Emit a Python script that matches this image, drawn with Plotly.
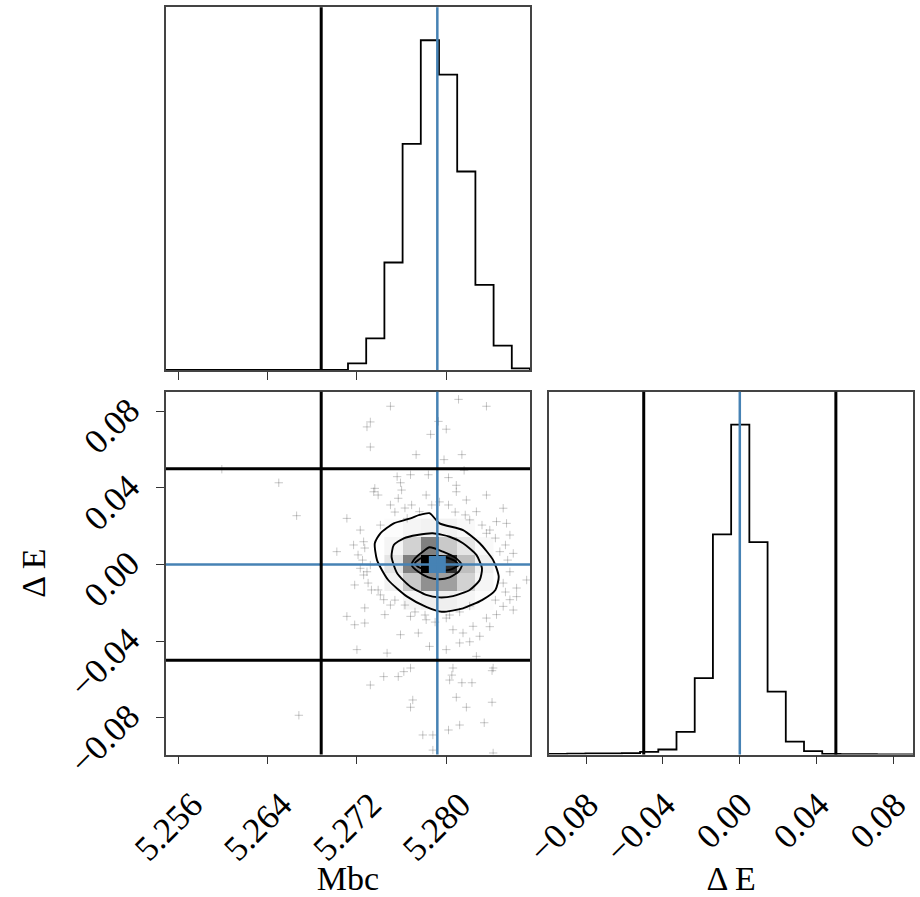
import numpy as np
import plotly.graph_objects as go

# ---------------- data ----------------
N_BINS = 20
MBC_RANGE = [5.2549, 5.2875]
DE_RANGE = [-0.0993, 0.0903]

MBC_TICKS = [5.256, 5.264, 5.272, 5.280]
DE_TICKS = [-0.08, -0.04, 0.00, 0.04, 0.08]

MBC_TRUTH = 5.2792
DE_TRUTH = 0.0
MBC_CUT = 5.2688
DE_CUTS = [-0.05, 0.05]

# 1D histogram counts (20 bins across the axis range)
mbc_counts = [0, 0, 0, 0, 0, 0, 0, 0, 0, 0, 20, 96, 326, 686, 1000, 896, 602, 258, 74, 5]
de_counts = [3, 4, 5, 5, 6, 11, 21, 95, 319, 920, 1379, 888, 263, 54, 14, 2, 1, 1, 0, 0]

# 2D density (relative to peak) for the central block of bins
DENS_I0 = 12   # first Mbc bin of the block
DENS_J0 = 8    # first Delta E bin of the block
density = [
    [0.00, 0.15, 0.25, 0.25, 0.15, 0.05],
    [0.20, 0.45, 0.65, 0.60, 0.40, 0.15],
    [0.30, 0.70, 1.00, 0.90, 0.50, 0.25],
    [0.15, 0.40, 0.70, 0.45, 0.30, 0.10],
    [0.05, 0.15, 0.20, 0.20, 0.10, 0.00],
]

# contour levels (Mbc, Delta E)
c1_mbc = [5.2785, 5.2794, 5.2815, 5.2830, 5.2842, 5.2847, 5.2844, 5.2832, 5.2815, 5.2796,
          5.2782, 5.2765, 5.2748, 5.2738, 5.2736, 5.2741, 5.2753, 5.2768, 5.2776]
c1_de = [0.0268, 0.0215, 0.0180, 0.0111, 0.0023, -0.0064, -0.0133, -0.0186, -0.0229, -0.0247,
         -0.0221, -0.0168, -0.0081, 0.0023, 0.0111, 0.0163, 0.0215, 0.0241, 0.0259]
c2_mbc = [5.2788, 5.2803, 5.2815, 5.2827, 5.2832, 5.2830, 5.2821, 5.2806, 5.2794, 5.2782,
          5.2768, 5.2756, 5.2751, 5.2753, 5.2762, 5.2774]
c2_de = [0.0163, 0.0145, 0.0111, 0.0050, -0.0020, -0.0081, -0.0133, -0.0165, -0.0172, -0.0159,
         -0.0116, -0.0046, 0.0041, 0.0102, 0.0137, 0.0154]
c3_mbc = [5.2785, 5.2797, 5.2809, 5.2814, 5.2811, 5.2803, 5.2794, 5.2784, 5.2775, 5.2769,
          5.2772, 5.2779]
c3_de = [0.0090, 0.0067, 0.0032, -0.0003, -0.0038, -0.0067, -0.0077, -0.0067, -0.0038, -0.0003,
         0.0032, 0.0067]
c4_mbc = [5.2772, 5.2778, 5.2787, 5.2799, 5.2808, 5.2811, 5.2805, 5.2794, 5.2784, 5.2775]
c4_de = [0.0008, 0.0034, 0.0044, 0.0039, 0.0018, -0.0003, -0.0024, -0.0034, -0.0029, -0.0013]

# individual samples outside the contours
sample_mbc = [
    5.2750, 5.2732, 5.2729, 5.2836, 5.2811, 5.2800, 5.2786, 5.2732, 5.2773, 5.2814,
    5.2798, 5.2793, 5.2768, 5.2784, 5.2759, 5.2802, 5.2816, 5.2809, 5.2756, 5.2736,
    5.2739, 5.2711, 5.2735, 5.2757, 5.2760, 5.2769, 5.2776, 5.2802, 5.2818, 5.2827,
    5.2851, 5.2845, 5.2857, 5.2836, 5.2726, 5.2717, 5.2732, 5.2726, 5.2848, 5.2857,
    5.2741, 5.2750, 5.2765, 5.2809, 5.2782, 5.2836, 5.2854, 5.2702, 5.2860, 5.2872,
    5.2723, 5.2729, 5.2863, 5.2860, 5.2650, 5.2666, 5.2668, 5.2599, 5.2711, 5.2718,
    5.2727, 5.2727, 5.2744, 5.2745, 5.2759, 5.2768, 5.2775, 5.2782, 5.2800, 5.2806,
    5.2815, 5.2824, 5.2830, 5.2836, 5.2845, 5.2851, 5.2857, 5.2863, 5.2785, 5.2800,
    5.2812, 5.2747, 5.2827, 5.2720, 5.2821, 5.2839, 5.2768, 5.2806, 5.2842, 5.2732,
    5.2744, 5.2757, 5.2762, 5.2803, 5.2805, 5.2814, 5.2823, 5.2841, 5.2770, 5.2768,
    5.2809, 5.2818, 5.2841, 5.2802, 5.2812, 5.2834, 5.2779, 5.2788, 5.2788, 5.2842,
    5.2723, 5.2727, 5.2721, 5.2730, 5.2733, 5.2725, 5.2718, 5.2754, 5.2763, 5.2787,
    5.2794, 5.2808, 5.2817, 5.2821, 5.2853, 5.2851, 5.2853, 5.2855, 5.2844, 5.2763,
    5.2772, 5.2790, 5.2803, 5.2812, 5.2821, 5.2754, 5.2781, 5.2839, 5.2844, 5.2832,
    5.2741, 5.2750, 5.2739,
]
sample_de = [
    0.0827, 0.0745, 0.0719, 0.0827, 0.0863, 0.0707, 0.0680, 0.0614, 0.0574, 0.0574,
    0.0548, 0.0748, 0.0469, 0.0469, 0.0427, 0.0454, 0.0492, 0.0414, 0.0459, 0.0398,
    0.0363, 0.0241, 0.0380, 0.0346, 0.0389, 0.0311, 0.0276, 0.0311, 0.0337, 0.0276,
    0.0294, 0.0224, 0.0154, 0.0163, 0.0119, 0.0102, -0.0003, -0.0055, 0.0067, -0.0038,
    0.0206, 0.0311, 0.0241, 0.0380, 0.0363, 0.0363, 0.0215, 0.0067, 0.0058, -0.0081,
    -0.0020, -0.0038, -0.0168, -0.0238, 0.0427, 0.0255, -0.0788, 0.0498, -0.0271, -0.0315,
    -0.0227, -0.0306, -0.0184, -0.0262, -0.0367, -0.0271, -0.0358, -0.0289, -0.0280, -0.0341,
    -0.0358, -0.0323, -0.0375, -0.0280, -0.0262, -0.0219, -0.0184, -0.0123, -0.0428, -0.0445,
    -0.0410, -0.0463, -0.0480, -0.0445, -0.0404, -0.0325, -0.0541, -0.0541, -0.0541, -0.0630,
    -0.0586, -0.0586, -0.0560, -0.0604, -0.0578, -0.0618, -0.0618, -0.0555, -0.0708, -0.0746,
    -0.0694, -0.0746, -0.0720, -0.0865, -0.0839, -0.0827, -0.0891, -0.0891, -0.0970, -0.0985,
    0.0180, 0.0086, 0.0050, -0.0097, -0.0133, 0.0023, -0.0107, 0.0274, 0.0295, 0.0311,
    0.0327, 0.0274, 0.0259, 0.0233, 0.0102, -0.0097, -0.0144, 0.0023, -0.0186, -0.0212,
    -0.0248, -0.0301, -0.0264, -0.0248, -0.0217, -0.0186, -0.0264, 0.0180, 0.0138, 0.0206,
    -0.0159, -0.0212, -0.0133,
]

# ---------------- styling ----------------
FONT = "Liberation Serif"
FS_TICK = 35
FS_TITLE = 34
TRUTH_COLOR = "#4682b4"
SPINE = dict(showline=True, mirror=True, linecolor="#444", linewidth=1.5)

mbc_edges = np.linspace(MBC_RANGE[0], MBC_RANGE[1], N_BINS + 1)
de_edges = np.linspace(DE_RANGE[0], DE_RANGE[1], N_BINS + 1)


def step_xy(edges, counts):
    xs = [edges[0]] + list(edges) + [edges[-1]]
    ys = [0] + list(counts) + [counts[-1], 0]
    return xs, ys


fig = go.Figure()

# top-left: Mbc histogram
sx, sy = step_xy(mbc_edges, mbc_counts)
fig.add_trace(go.Scatter(x=sx, y=sy, mode="lines", line=dict(shape="hv", color="black", width=1.8),
                         xaxis="x", yaxis="y", hoverinfo="skip"))

# bottom-left: 2D density
nr, nc = len(density), len(density[0])
fig.add_trace(go.Heatmap(
    x=mbc_edges[DENS_I0:DENS_I0 + nc + 1], y=de_edges[DENS_J0:DENS_J0 + nr + 1], z=density,
    zmin=0, zmax=1, showscale=False, xaxis="x2", yaxis="y2", hoverinfo="skip",
    colorscale=[[0, "rgb(255,255,255)"], [0.25, "rgb(239,239,239)"], [0.5, "rgb(191,191,191)"],
                [0.75, "rgb(112,112,112)"], [1, "rgb(0,0,0)"]]))

fig.add_trace(go.Scatter(x=sample_mbc, y=sample_de, mode="markers",
                         marker=dict(symbol="cross-thin", size=6,
                                     line=dict(width=1, color="rgba(0,0,0,0.22)")),
                         xaxis="x2", yaxis="y2", hoverinfo="skip"))

for cx, cy in [(c1_mbc, c1_de), (c2_mbc, c2_de), (c3_mbc, c3_de), (c4_mbc, c4_de)]:
    fig.add_trace(go.Scatter(x=cx + cx[:1], y=cy + cy[:1], mode="lines",
                             line=dict(color="black", width=1.9, shape="spline", smoothing=0.6),
                             xaxis="x2", yaxis="y2", hoverinfo="skip"))

fig.add_trace(go.Scatter(x=[MBC_TRUTH], y=[DE_TRUTH], mode="markers",
                         marker=dict(symbol="square", size=17, color=TRUTH_COLOR),
                         xaxis="x2", yaxis="y2", hoverinfo="skip"))

# bottom-right: Delta E histogram
sx, sy = step_xy(de_edges, de_counts)
fig.add_trace(go.Scatter(x=sx, y=sy, mode="lines", line=dict(shape="hv", color="black", width=1.8),
                         xaxis="x3", yaxis="y3", hoverinfo="skip"))

# ---------------- reference lines ----------------
shapes = []


def vline(xref, yref, x, color, width):
    shapes.append(dict(type="line", xref=xref, yref=yref + " domain", x0=x, x1=x, y0=0, y1=1,
                       line=dict(color=color, width=width), layer="above"))


def hline(xref, yref, y, color, width):
    shapes.append(dict(type="line", xref=xref + " domain", yref=yref, x0=0, x1=1, y0=y, y1=y,
                       line=dict(color=color, width=width), layer="above"))


vline("x", "y", MBC_TRUTH, TRUTH_COLOR, 2.5)
vline("x2", "y2", MBC_TRUTH, TRUTH_COLOR, 2.5)
hline("x2", "y2", DE_TRUTH, TRUTH_COLOR, 2.5)
vline("x3", "y3", DE_TRUTH, TRUTH_COLOR, 2.5)
vline("x", "y", MBC_CUT, "black", 3)
vline("x2", "y2", MBC_CUT, "black", 3)
for c in DE_CUTS:
    hline("x2", "y2", c, "black", 3)
    vline("x3", "y3", c, "black", 3)

tickfont = dict(family=FONT, size=FS_TICK, color="black")
titlefont = dict(family=FONT, size=FS_TITLE, color="black")
tick_common = dict(ticks="outside", ticklen=8, tickwidth=1.3, tickcolor="#333", showgrid=False,
                   zeroline=False, tickfont=tickfont, ticklabeloverflow="allow", **SPINE)

LEFT = [166 / 920, 530 / 920]
RIGHT = [549 / 920, 913.3 / 920]
TOP = [1 - 370 / 897, 1 - 7.3 / 897]
BOTTOM = [1 - 754.5 / 897, 1 - 391.7 / 897]

fig.update_layout(
    width=920, height=897, margin=dict(l=0, r=0, t=0, b=0),
    paper_bgcolor="white", plot_bgcolor="white", showlegend=False, template="none",
    font=dict(family=FONT, size=FS_TITLE, color="black"),
    shapes=shapes,
    xaxis=dict(domain=LEFT, anchor="y", range=MBC_RANGE, tickvals=MBC_TICKS, showticklabels=False,
               **tick_common),
    yaxis=dict(domain=TOP, anchor="x", range=[0, 1.1 * max(mbc_counts)], showticklabels=False,
               showgrid=False, zeroline=False, ticks="", **SPINE),
    xaxis2=dict(domain=LEFT, anchor="y2", range=MBC_RANGE, tickvals=MBC_TICKS, tickformat=".3f",
                tickangle=-45, ticklabelshift=14, ticklabelstandoff=6,
                title=dict(text="Mbc", font=titlefont, standoff=7), **tick_common),
    yaxis2=dict(domain=BOTTOM, anchor="x2", range=DE_RANGE, tickvals=DE_TICKS, tickformat=".2f",
                tickangle=-45, ticklabelstandoff=20, ticklabelshift=-6,
                title=dict(text="Δ E", font=titlefont, standoff=7), **tick_common),
    xaxis3=dict(domain=RIGHT, anchor="y3", range=DE_RANGE, tickvals=DE_TICKS, tickformat=".2f",
                tickangle=-45, ticklabelshift=2, ticklabelstandoff=6,
                title=dict(text="Δ E", font=titlefont, standoff=7), **tick_common),
    yaxis3=dict(domain=BOTTOM, anchor="x3", range=[0, 1.1 * max(de_counts)], showticklabels=False,
                showgrid=False, zeroline=False, ticks="", **SPINE),
)

fig.write_html("out.html")
